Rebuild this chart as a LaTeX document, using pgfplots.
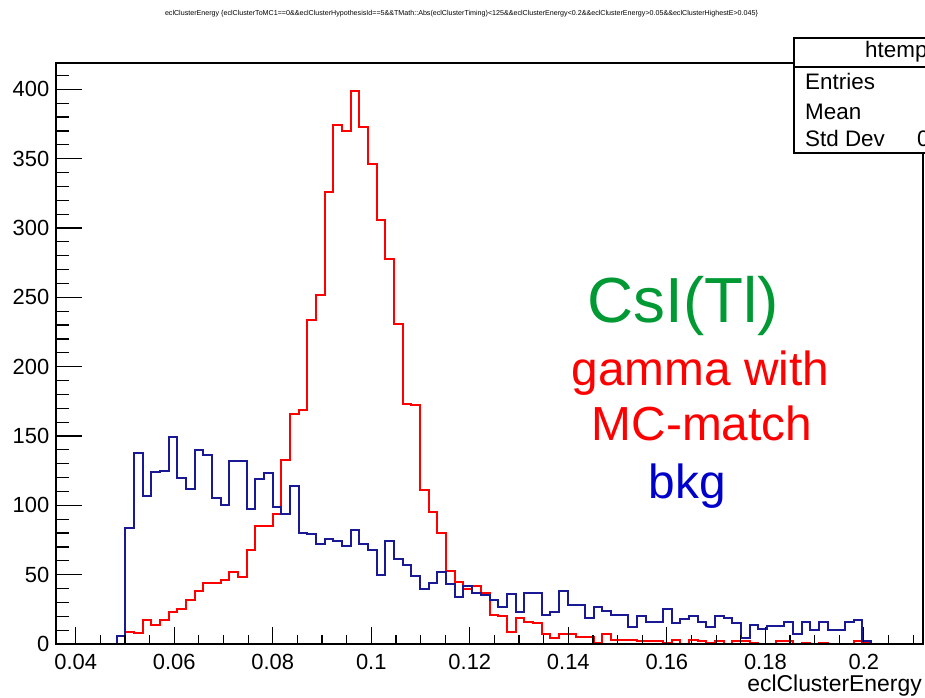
\documentclass[border=0pt]{standalone}
\usepackage{fontspec}
\setmainfont{Liberation Sans}
\usepackage{graphicx}
\usepackage{pgfplots}
\usepackage{pgfplotstable}
\pgfplotsset{compat=1.18}
\definecolor{rootred}{RGB}{255,0,0}
\definecolor{rootblue}{RGB}{25,25,150}
\definecolor{txtgreen}{RGB}{0,153,51}
\definecolor{txtred}{RGB}{255,0,0}
\definecolor{txtblue}{RGB}{0,0,204}

\pgfplotstableread{
x red blue
0.036 0 0
0.03776 0 0
0.03952 0 0
0.04128 0 0
0.04304 0 0
0.0448 0 0
0.04656 0 0
0.04832 0 6
0.05008 9 84
0.05184 8 138
0.0536 17 107
0.05536 14 124
0.05712 17 125
0.05888 23 149
0.06064 25 120
0.0624 32 112
0.06416 38 140
0.06592 44 136
0.06768 44 105
0.06944 46 100
0.0712 52 132
0.07296 48 132
0.07472 68 97
0.07648 85 119
0.07824 85 123
0.08 94 99
0.08176 133 94
0.08352 166 114
0.08528 169 80
0.08704 234 79
0.0888 252 72
0.09056 326 76
0.09232 374 74
0.09408 370 71
0.09584 399 82
0.0976 373 72
0.09936 346 68
0.10112 306 50
0.10288 278 74
0.10464 231 61
0.1064 173 57
0.10816 172 49
0.10992 111 40
0.11168 95 44
0.11344 80 52
0.1152 53 43
0.11696 45 34
0.11872 40 42
0.12048 42 37
0.12224 37 35
0.124 21 32
0.12576 20 27
0.12752 9 36
0.12928 19 23
0.13104 16 37
0.1328 15 37
0.13456 7 21
0.13632 4 23
0.13808 7 38
0.13984 7 28
0.1416 5 28
0.14336 5 19
0.14512 1 27
0.14688 7 24
0.14864 3 21
0.1504 3 21
0.15216 3 12
0.15392 2 20
0.15568 2 16
0.15744 2 16
0.1592 1 25
0.16096 3 15
0.16272 0 18
0.16448 3 20
0.16624 2 16
0.168 1 12
0.16976 2 20
0.17152 0 19
0.17328 2 15
0.17504 2 4
0.1768 1 14
0.17856 0 11
0.18032 0 13
0.18208 2 13
0.18384 2 16
0.1856 0 7
0.18736 1 16
0.18912 0 10
0.19088 1 16
0.19264 0 10
0.1944 0 10
0.19616 0 16
0.19792 2 17
0.19968 1 2
0.20144 0 0
0.212 0 0
}\hist

\pgfplotsset{rootframe/.style={
  at={(56bp,54bp)}, anchor=south west,
  scale only axis, width=867bp, height=581bp,
  xmin=0.036, xmax=0.212, ymin=0, ymax=419,
  tick align=inside,
  axis line style={line width=1.2bp},
  every tick/.style={black, line width=1.2bp},
  ticklabel style={font=\fontsize{22}{22}\selectfont},
}}

\begin{document}
\begin{tikzpicture}
\useasboundingbox (0,0) rectangle (925bp,698bp);
\clip (0,0) rectangle (925bp,698bp);
% y ticks and the histograms
\begin{axis}[
  rootframe,
  xtick=\empty, minor xtick={},
  ytick={0,50,100,150,200,250,300,350,400},
  yticklabels={0,50,100,150,200,250,300,350,400},
  minor ytick={10,20,30,40,60,70,80,90,110,120,130,140,160,170,180,190,210,220,230,240,260,270,280,290,310,320,330,340,360,370,380,390,410},
  ytick pos=left,
  major tick length=26bp, minor tick length=12.7bp,
  yticklabel style={inner sep=0pt, xshift=-6.5bp},
]
\addplot[const plot, rootred, line width=2bp, line join=miter] table[x=x, y=red] {\hist};
\addplot[const plot, rootblue, line width=2bp, line join=miter] table[x=x, y=blue] {\hist};
\end{axis}
% x ticks
\begin{axis}[
  rootframe,
  ytick=\empty, minor ytick={},
  xtick={0.04,0.06,0.08,0.1,0.12,0.14,0.16,0.18,0.2},
  xticklabels={0.04,0.06,0.08,0.1,0.12,0.14,0.16,0.18,0.2},
  minor xtick={0.045,0.05,0.055,0.065,0.07,0.075,0.085,0.09,0.095,0.105,0.11,0.115,0.125,0.13,0.135,0.145,0.15,0.155,0.165,0.17,0.175,0.185,0.19,0.195,0.205,0.21},
  xtick pos=bottom,
  major tick length=17bp, minor tick length=8.5bp,
  xticklabel style={inner sep=0pt, yshift=-10bp},
]
\end{axis}
% title
\node[anchor=center] at (461.5bp,684bp) {\resizebox{593bp}{!}{eclClusterEnergy \{eclClusterToMC1==0\&\&eclClusterHypothesisId==5\&\&TMath::Abs(eclClusterTiming)<125\&\&eclClusterEnergy<0.2\&\&eclClusterEnergy>0.05\&\&eclClusterHighestE>0.045\}}};
% x axis title
\node[anchor=base east, inner sep=0pt, font=\fontsize{23}{23}\selectfont] at (922bp,7bp) {eclClusterEnergy};
% annotations
\node[anchor=base, inner sep=0pt, text=txtgreen, font=\fontsize{64}{64}\selectfont] at (683.5bp,375bp) {CsI(Tl)};
\node[anchor=base, inner sep=0pt, text=txtred, font=\fontsize{48}{48}\selectfont] at (700.5bp,312bp) {gamma with};
\node[anchor=base, inner sep=0pt, text=txtred, font=\fontsize{48}{48}\selectfont] at (702bp,257bp) {MC-match};
\node[anchor=base, inner sep=0pt, text=txtblue, font=\fontsize{48}{48}\selectfont] at (687.5bp,199bp) {bkg};
% stats box
\filldraw[fill=white, draw=black, line width=1.2bp] (794bp,545bp) rectangle (1001bp,660bp);
\draw[line width=1.2bp] (794bp,631bp) -- (1001bp,631bp);
\begin{scope}[every node/.style={inner sep=0pt, font=\fontsize{22.5}{22.5}\selectfont}]
\node[anchor=base west] at (865bp,640.7bp) {htemp};
\node[anchor=base west] at (805bp,608bp) {Entries};
\node[anchor=base west] at (805bp,578.7bp) {Mean};
\node[anchor=base west] at (805bp,551bp) {Std Dev};
\node[anchor=base west] at (917bp,551bp) {0};
\end{scope}
\end{tikzpicture}
\end{document}
